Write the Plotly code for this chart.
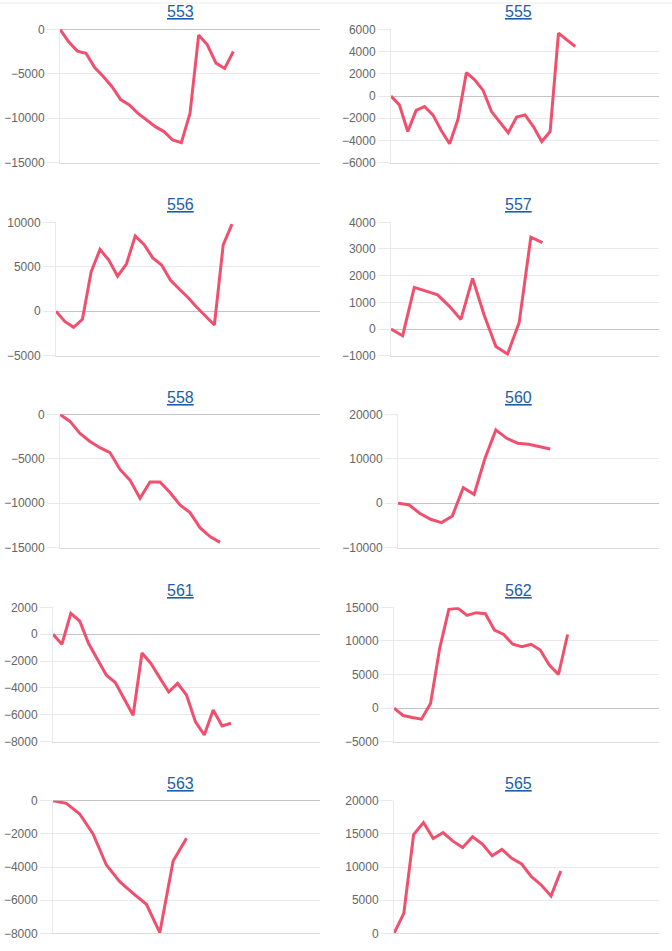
import plotly.graph_objects as go

W, H = 672, 951

titles = ["553", "555", "556", "557", "558", "560", "561", "562", "563", "565"]

v553 = [0, -1400, -2450, -2700, -4300, -5300, -6450, -7900, -8500, -9450, -10200,
        -10950, -11500, -12450, -12750, -9450, -650, -1750, -3800, -4400, -2500]
v555 = [0, -800, -3200, -1300, -950, -1700, -3100, -4300, -2100, 2100, 1450, 500,
        -1400, -2400, -3300, -1900, -1700, -2750, -4100, -3200, 5650, 5050, 4450]
v556 = [0, -1150, -1800, -900, 4450, 6950, 5750, 3950, 5300, 8450, 7500, 6000,
        5200, 3500, 2500, 1550, 450, -600, -1550, 7450, 9800]
v557 = [0, -250, 1560, 1420, 1280, 860, 360, 1900, 520, -660, -940, 240, 3440, 3240]
v558 = [0, -800, -2150, -3050, -3750, -4300, -6200, -7400, -9450, -7600, -7600,
        -8800, -10200, -11050, -12750, -13750, -14400]
v560 = [0, -350, -2250, -3600, -4350, -2850, 3500, 2000, 10100, 16500, 14600,
        13500, 13250, 12750, 12200]
v561 = [0, -750, 1550, 980, -700, -1930, -3050, -3600, -4870, -6030, -1400, -2180,
        -3250, -4300, -3660, -4530, -6510, -7500, -5640, -6830, -6630]
v562 = [0, -1100, -1400, -1650, 700, 8900, 14700, 14850, 13800, 14200, 14050,
        11600, 10950, 9500, 9150, 9500, 8650, 6400, 5000, 10950]
v563 = [0, -160, -800, -2000, -3880, -4880, -5590, -6250, -7960, -3640, -2270]
v565 = [0, 3000, 14900, 16700, 14300, 15200, 13900, 12950, 14550, 13450, 11700,
        12650, 11300, 10450, 8540, 7290, 5640, 9400]

series = [v553, v555, v556, v557, v558, v560, v561, v562, v563, v565]
# number of x categories on each chart's axis
n_cats = [31, 33, 31, 24, 27, 25, 31, 30, 21, 28]
y_ranges = [(-15000, 0), (-6000, 6000), (-5000, 10000), (-1000, 4000), (-15000, 0),
            (-10000, 20000), (-8000, 2000), (-5000, 15000), (-8000, 0), (0, 20000)]
y_dticks = [5000, 2000, 5000, 1000, 5000, 10000, 2000, 5000, 2000, 5000]

# layout in pixels
left_px = [60, 391, 56, 391, 60, 398, 53, 394, 53, 394]
right_px = [320, 659, 320, 659, 320, 659, 320, 659, 320, 659]
rows_px = [(29.3, 162.7), (222.3, 355.7), (414.3, 547.7), (607.3, 741.7), (800.7, 933.3)]
title_y_px = [11, 204, 397, 590, 783]
title_x_px = [180, 518]

LINE = "#f0506e"
GRID = "#e9e9e9"
ZERO = "#c4c4c4"

fig = go.Figure()
for i, vals in enumerate(series):
    r, c = divmod(i, 2)
    k = "" if i == 0 else str(i + 1)
    fig.add_trace(go.Scatter(
        x=list(range(len(vals))), y=vals, mode="lines",
        line=dict(color=LINE, width=3), xaxis="x" + k, yaxis="y" + k,
        showlegend=False, hoverinfo="skip"))
    top, bot = rows_px[r]
    fig.layout["xaxis" + k] = dict(
        domain=[left_px[i] / W, right_px[i] / W], anchor="y" + k,
        range=[0, n_cats[i] - 1], showgrid=False, zeroline=False,
        showticklabels=False, ticks="", showline=True, linecolor="#dcdcdc",
        linewidth=1, fixedrange=True, automargin=False)
    fig.layout["yaxis" + k] = dict(
        domain=[1 - bot / H, 1 - top / H], anchor="x" + k,
        range=list(y_ranges[i]), dtick=y_dticks[i], tick0=0, tickformat="d",
        showgrid=True, gridcolor=GRID, gridwidth=1,
        zeroline=True, zerolinecolor=ZERO, zerolinewidth=1,
        showline=True, linecolor=GRID, linewidth=1,
        ticks="outside", ticklen=12, tickcolor=GRID,
        tickfont=dict(family="Liberation Sans, Arial, sans-serif", size=12, color="#666666"),
        fixedrange=True, automargin=False)
    fig.add_annotation(
        text="<u>" + titles[i] + "</u>", xref="paper", yref="paper",
        x=title_x_px[c] / W, y=1 - title_y_px[r] / H, xanchor="center", yanchor="middle",
        showarrow=False,
        font=dict(family="Liberation Sans, Arial, sans-serif", size=16, color="#1c5ea8"))

fig.add_shape(type="line", xref="paper", yref="paper", x0=0, x1=1,
              y0=1 - 3 / H, y1=1 - 3 / H, line=dict(color="#ececec", width=1))

fig.update_layout(width=W, height=H, margin=dict(l=0, r=0, t=0, b=0, autoexpand=False),
                  paper_bgcolor="white", plot_bgcolor="white")
fig.write_html("out.html")
